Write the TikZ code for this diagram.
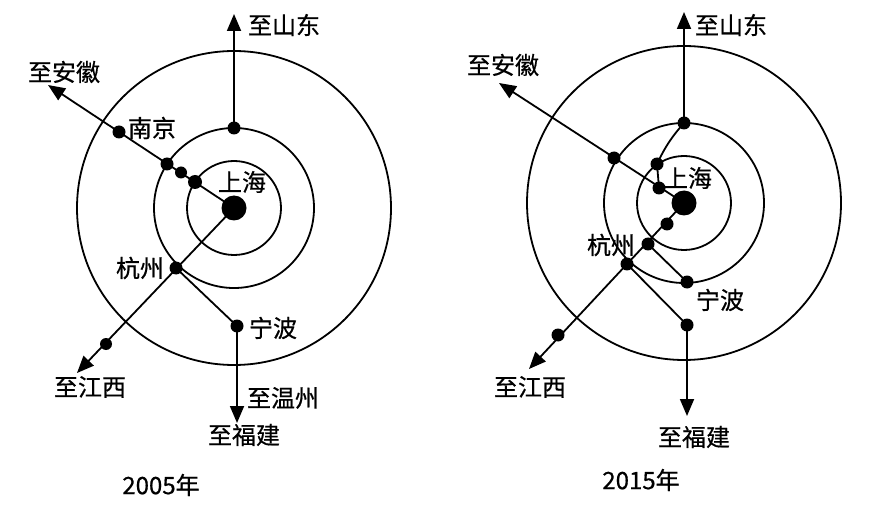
\documentclass[tikz,border=0pt]{standalone}
\usepackage{fontspec}
\newfontfamily\cjk{Noto Sans CJK SC}[FakeBold=0.6]
\usetikzlibrary{arrows.meta,backgrounds}
\begin{document}
\begin{tikzpicture}[x=1pt,y=-1pt,
  ring/.style={draw=black,line width=1.8pt},
  road/.style={draw=black,line width=1.8pt},
  arr/.style={road,-{Triangle[length=17pt,width=14pt]}},
  dot/.style={circle,fill=black,inner sep=0pt,minimum size=13pt},
  bigdot/.style={circle,fill=black,inner sep=0pt,minimum size=25pt},
  lab/.style={font=\cjk\fontsize{24pt}{27pt}\selectfont,inner sep=0pt,text=black}]
\useasboundingbox (0,0) rectangle (874,518);
% ---------------- 2005 ----------------
\draw[ring] (234,208) circle[radius=47];
\draw[ring] (234,208) circle[radius=80];
\draw[ring] (234,208) circle[radius=157];
\node[bigdot] (shA) at (234,208) {};
\node[dot] (sdA) at (234,128) {};
\coordinate (sdTipA) at (234,14);
\node[dot,minimum size=14pt] (a3A) at (195,182) {};
\node[dot,minimum size=12pt] (a2A) at (181,172.5) {};
\node[dot] (a1A) at (167,164) {};
\node[dot] (njA) at (119,132) {};
\coordinate (ahTipA) at (48,85);
\node[dot] (hzA) at (176,268) {};
\node[dot,minimum size=12pt] (jxdA) at (106,344) {};
\coordinate (jxTipA) at (77,373);
\node[dot] (nbA) at (237,326) {};
\coordinate (fjTipA) at (237,423);
\begin{scope}[on background layer]
\fill[white] (0,0) rectangle (874,518);
\draw[arr] (sdA.center) -- (sdTipA);
\draw[arr] (shA.center) -- (ahTipA);
\draw[arr] (shA.center) -- (jxTipA);
\draw[road] (hzA.center) -- (nbA.center);
\draw[arr] (nbA.center) -- (fjTipA);
\end{scope}
\node[lab] (tSdA) at (284,25) {至山东};
\node[lab] (tAhA) at (64,72) {至安徽};
\node[lab] (tNjA) at (152,128) {南京};
\node[lab] (tShA) at (242,182) {上海};
\node[lab] (tHzA) at (140,268) {杭州};
\node[lab] (tNbA) at (273,328) {宁波};
\node[lab] (tJxA) at (90,387) {至江西};
\node[lab] (tWzA) at (283,398) {至温州};
\node[lab] (tFjA) at (244,435) {至福建};
\node[lab] (tYA) at (161,485) {2005年};
% ---------------- 2015 ----------------
\draw[ring] (684,203) circle[radius=47];
\draw[ring] (684,203) circle[radius=80];
\draw[ring] (684,203) circle[radius=157];
\node[bigdot] (shB) at (684,203) {};
\node[dot] (sdB) at (684,123) {};
\coordinate (sdTipB) at (684,12);
\node[dot] (a1B) at (659,188) {};
\node[dot] (a2B) at (657,164) {};
\node[dot] (a3B) at (614,158) {};
\coordinate (ahTipB) at (499,83);
\node[dot] (h1B) at (667,224) {};
\node[dot] (hzB) at (648,244) {};
\node[dot] (h3B) at (627,264) {};
\node[dot] (jxdB) at (558,335) {};
\coordinate (jxTipB) at (529,369);
\node[dot] (nbB) at (687,282) {};
\node[dot] (fdB) at (687,325) {};
\coordinate (fjTipB) at (687,416);
\begin{scope}[on background layer]
\draw[arr] (sdB.center) -- (sdTipB);
\draw[arr] (shB.center) -- (ahTipB);
\draw[road] (a1B.center) -- (a2B.center);
\draw[road] (a2B.center) to[bend left=8] (sdB.center);
\draw[arr] (shB.center) -- (jxTipB);
\draw[road] (hzB.center) -- (nbB.center);
\draw[road] (h3B.center) -- (fdB.center);
\draw[arr] (fdB.center) -- (fjTipB);
\end{scope}
\node[lab] (tSdB) at (731,25) {至山东};
\node[lab] (tAhB) at (503,65) {至安徽};
\node[lab] (tShB) at (688,178) {上海};
\node[lab] (tHzB) at (611,245) {杭州};
\node[lab] (tNbB) at (720,300) {宁波};
\node[lab] (tJxB) at (530,387) {至江西};
\node[lab] (tFjB) at (694,437) {至福建};
\node[lab] (tYB) at (641,480) {2015年};
\end{tikzpicture}
\end{document}
